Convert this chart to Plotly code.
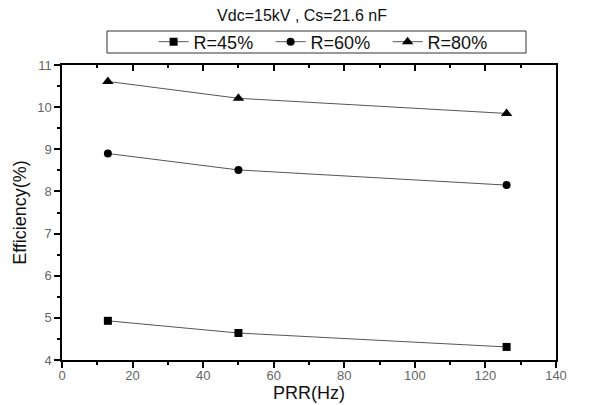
import plotly.graph_objects as go

prr = [13, 50, 126]
eff_r45 = [4.93, 4.64, 4.31]
eff_r60 = [8.90, 8.51, 8.15]
eff_r80 = [10.61, 10.21, 9.85]
series_names = ["R=45%", "R=60%", "R=80%"]
symbols = ["square", "circle", "triangle-up"]
marker_sizes = [8, 8, 10]

fig = go.Figure()
for name, ys, sym, ms in zip(series_names, [eff_r45, eff_r60, eff_r80], symbols, marker_sizes):
    fig.add_trace(go.Scatter(
        x=prr, y=ys, name=name, mode="lines+markers",
        line=dict(color="#555555", width=1),
        marker=dict(symbol=sym, size=ms, color="black"),
    ))

# invisible trace to anchor the top (inward-tick) axis
fig.add_trace(go.Scatter(x=prr, y=eff_r45, xaxis="x2", mode="none",
                         showlegend=False, hoverinfo="skip"))

# page body has an 8px margin, so the figure is 8px smaller than the window
W, H = 604, 397
font_family = "Liberation Sans, Arial, sans-serif"
fig.update_layout(
    width=W, height=H,
    margin=dict(l=54, r=56, t=57, b=45, autoexpand=False),
    paper_bgcolor="white", plot_bgcolor="white",
    font=dict(family=font_family, color="black"),
    title=dict(text="Vdc=15kV , Cs=21.6 nF", x=294 / W, xanchor="center",
               yref="container", y=1 - 7 / H, yanchor="middle",
               font=dict(size=16, color="#111")),
    legend=dict(orientation="h", x=112 / W, xanchor="left",
                yref="container", y=1 - 34 / H, yanchor="middle",
                borderwidth=0, bgcolor="rgba(0,0,0,0)",
                font=dict(size=18, color="#111"),
                entrywidth=72, entrywidthmode="pixels", tracegroupgap=0),
    showlegend=True,
    shapes=[dict(type="rect", xref="paper", yref="paper",
                 x0=(107 - 62) / 494, x1=(526 - 62) / 494,
                 y0=(360 - 53) / 295, y1=(360 - 31) / 295,
                 line=dict(color="#333", width=1), fillcolor="rgba(0,0,0,0)")],
    xaxis=dict(range=[0, 140], dtick=20, tick0=0, ticks="outside", ticklen=6,
               tickwidth=1.5, tickcolor="black", showline=True, linecolor="black",
               linewidth=1.5, mirror=True, showgrid=False, zeroline=False,
               automargin=False, ticklabelstandoff=-3,
               minor=dict(ticks="outside", dtick=10, ticklen=3, tickcolor="black"),
               tickfont=dict(size=13, color="#666"),
               title=dict(text="PRR(Hz)", font=dict(size=18, color="#111"), standoff=0)),
    xaxis2=dict(range=[0, 140], overlaying="x", side="top", dtick=20, tick0=0,
                ticks="inside", ticklen=6, tickwidth=1.5, tickcolor="black",
                showticklabels=False, showgrid=False, zeroline=False, automargin=False,
                minor=dict(ticks="inside", dtick=10, ticklen=3, tickcolor="black")),
    yaxis=dict(range=[4, 11], dtick=1, tick0=4, ticks="outside", ticklen=6,
               tickwidth=1.5, tickcolor="black", showline=True, linecolor="black",
               linewidth=1.5, mirror=True, showgrid=False, zeroline=False,
               automargin=False,
               minor=dict(ticks="outside", dtick=0.5, ticklen=3, tickcolor="black"),
               tickfont=dict(size=13, color="#666"),
               title=dict(text="Efficiency(%)", font=dict(size=18, color="#111"), standoff=6)),
)

fig.write_html("out.html")
